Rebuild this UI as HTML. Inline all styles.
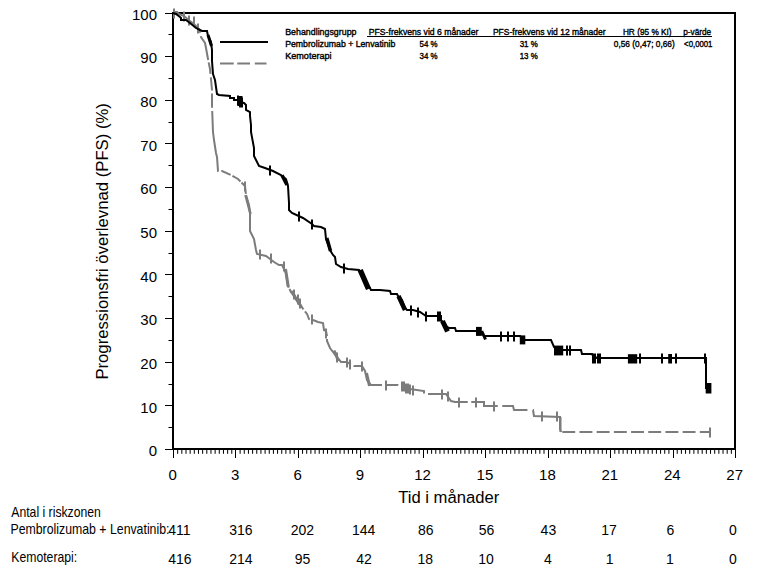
<!DOCTYPE html>
<html><head><meta charset="utf-8"><style>
html,body{margin:0;padding:0;background:#fff;}
body{width:766px;height:579px;overflow:hidden;position:relative;}
svg{position:absolute;left:0;top:0;}
text{font-family:"Liberation Sans",Arial,sans-serif;fill:#000;}
.tl{font-size:15px;}
.ti{font-size:16.67px;}
.lg{font-size:9.8px;stroke:#000;stroke-width:0.4px;}
.rl{font-size:15px;}
.rn{font-size:14px;}
</style></head><body>
<svg width="766" height="579" viewBox="0 0 766 579">
<rect x="172" y="12" width="564" height="2" fill="#000"/>
<rect x="734" y="12" width="2" height="438" fill="#000"/>
<rect x="172" y="12" width="2" height="438" fill="#000"/>
<rect x="172" y="448" width="564" height="2" fill="#000"/>
<rect x="165" y="449" width="7" height="1" fill="#000"/>
<rect x="168.5" y="427" width="3.5" height="1" fill="#000"/>
<rect x="165" y="405" width="7" height="1" fill="#000"/>
<rect x="168.5" y="384" width="3.5" height="1" fill="#000"/>
<rect x="165" y="362" width="7" height="1" fill="#000"/>
<rect x="168.5" y="340" width="3.5" height="1" fill="#000"/>
<rect x="165" y="318" width="7" height="1" fill="#000"/>
<rect x="168.5" y="296" width="3.5" height="1" fill="#000"/>
<rect x="165" y="274" width="7" height="1" fill="#000"/>
<rect x="168.5" y="253" width="3.5" height="1" fill="#000"/>
<rect x="165" y="231" width="7" height="1" fill="#000"/>
<rect x="168.5" y="209" width="3.5" height="1" fill="#000"/>
<rect x="165" y="187" width="7" height="1" fill="#000"/>
<rect x="168.5" y="165" width="3.5" height="1" fill="#000"/>
<rect x="165" y="143" width="7" height="1" fill="#000"/>
<rect x="168.5" y="122" width="3.5" height="1" fill="#000"/>
<rect x="165" y="100" width="7" height="1" fill="#000"/>
<rect x="168.5" y="78" width="3.5" height="1" fill="#000"/>
<rect x="165" y="56" width="7" height="1" fill="#000"/>
<rect x="168.5" y="34" width="3.5" height="1" fill="#000"/>
<rect x="165" y="13" width="7" height="1" fill="#000"/>
<rect x="173" y="450" width="1" height="8" fill="#000"/>
<rect x="177.16" y="450" width="1" height="3.8" fill="#000"/>
<rect x="181.33" y="450" width="1" height="3.8" fill="#000"/>
<rect x="185.49" y="450" width="1" height="3.8" fill="#000"/>
<rect x="189.65" y="450" width="1" height="3.8" fill="#000"/>
<rect x="193.81" y="450" width="1" height="3.8" fill="#000"/>
<rect x="197.98" y="450" width="1" height="3.8" fill="#000"/>
<rect x="202.14" y="450" width="1" height="3.8" fill="#000"/>
<rect x="206.30" y="450" width="1" height="3.8" fill="#000"/>
<rect x="210.47" y="450" width="1" height="3.8" fill="#000"/>
<rect x="214.63" y="450" width="1" height="3.8" fill="#000"/>
<rect x="218.79" y="450" width="1" height="3.8" fill="#000"/>
<rect x="222.96" y="450" width="1" height="3.8" fill="#000"/>
<rect x="227.12" y="450" width="1" height="3.8" fill="#000"/>
<rect x="231.28" y="450" width="1" height="3.8" fill="#000"/>
<rect x="235" y="450" width="1" height="8" fill="#000"/>
<rect x="239.61" y="450" width="1" height="3.8" fill="#000"/>
<rect x="243.77" y="450" width="1" height="3.8" fill="#000"/>
<rect x="247.93" y="450" width="1" height="3.8" fill="#000"/>
<rect x="252.10" y="450" width="1" height="3.8" fill="#000"/>
<rect x="256.26" y="450" width="1" height="3.8" fill="#000"/>
<rect x="260.42" y="450" width="1" height="3.8" fill="#000"/>
<rect x="264.59" y="450" width="1" height="3.8" fill="#000"/>
<rect x="268.75" y="450" width="1" height="3.8" fill="#000"/>
<rect x="272.91" y="450" width="1" height="3.8" fill="#000"/>
<rect x="277.07" y="450" width="1" height="3.8" fill="#000"/>
<rect x="281.24" y="450" width="1" height="3.8" fill="#000"/>
<rect x="285.40" y="450" width="1" height="3.8" fill="#000"/>
<rect x="289.56" y="450" width="1" height="3.8" fill="#000"/>
<rect x="293.73" y="450" width="1" height="3.8" fill="#000"/>
<rect x="298" y="450" width="1" height="8" fill="#000"/>
<rect x="302.05" y="450" width="1" height="3.8" fill="#000"/>
<rect x="306.22" y="450" width="1" height="3.8" fill="#000"/>
<rect x="310.38" y="450" width="1" height="3.8" fill="#000"/>
<rect x="314.54" y="450" width="1" height="3.8" fill="#000"/>
<rect x="318.71" y="450" width="1" height="3.8" fill="#000"/>
<rect x="322.87" y="450" width="1" height="3.8" fill="#000"/>
<rect x="327.03" y="450" width="1" height="3.8" fill="#000"/>
<rect x="331.19" y="450" width="1" height="3.8" fill="#000"/>
<rect x="335.36" y="450" width="1" height="3.8" fill="#000"/>
<rect x="339.52" y="450" width="1" height="3.8" fill="#000"/>
<rect x="343.68" y="450" width="1" height="3.8" fill="#000"/>
<rect x="347.85" y="450" width="1" height="3.8" fill="#000"/>
<rect x="352.01" y="450" width="1" height="3.8" fill="#000"/>
<rect x="356.17" y="450" width="1" height="3.8" fill="#000"/>
<rect x="360" y="450" width="1" height="8" fill="#000"/>
<rect x="364.50" y="450" width="1" height="3.8" fill="#000"/>
<rect x="368.66" y="450" width="1" height="3.8" fill="#000"/>
<rect x="372.82" y="450" width="1" height="3.8" fill="#000"/>
<rect x="376.99" y="450" width="1" height="3.8" fill="#000"/>
<rect x="381.15" y="450" width="1" height="3.8" fill="#000"/>
<rect x="385.31" y="450" width="1" height="3.8" fill="#000"/>
<rect x="389.48" y="450" width="1" height="3.8" fill="#000"/>
<rect x="393.64" y="450" width="1" height="3.8" fill="#000"/>
<rect x="397.80" y="450" width="1" height="3.8" fill="#000"/>
<rect x="401.97" y="450" width="1" height="3.8" fill="#000"/>
<rect x="406.13" y="450" width="1" height="3.8" fill="#000"/>
<rect x="410.29" y="450" width="1" height="3.8" fill="#000"/>
<rect x="414.45" y="450" width="1" height="3.8" fill="#000"/>
<rect x="418.62" y="450" width="1" height="3.8" fill="#000"/>
<rect x="423" y="450" width="1" height="8" fill="#000"/>
<rect x="426.94" y="450" width="1" height="3.8" fill="#000"/>
<rect x="431.11" y="450" width="1" height="3.8" fill="#000"/>
<rect x="435.27" y="450" width="1" height="3.8" fill="#000"/>
<rect x="439.43" y="450" width="1" height="3.8" fill="#000"/>
<rect x="443.60" y="450" width="1" height="3.8" fill="#000"/>
<rect x="447.76" y="450" width="1" height="3.8" fill="#000"/>
<rect x="451.92" y="450" width="1" height="3.8" fill="#000"/>
<rect x="456.08" y="450" width="1" height="3.8" fill="#000"/>
<rect x="460.25" y="450" width="1" height="3.8" fill="#000"/>
<rect x="464.41" y="450" width="1" height="3.8" fill="#000"/>
<rect x="468.57" y="450" width="1" height="3.8" fill="#000"/>
<rect x="472.74" y="450" width="1" height="3.8" fill="#000"/>
<rect x="476.90" y="450" width="1" height="3.8" fill="#000"/>
<rect x="481.06" y="450" width="1" height="3.8" fill="#000"/>
<rect x="485" y="450" width="1" height="8" fill="#000"/>
<rect x="489.39" y="450" width="1" height="3.8" fill="#000"/>
<rect x="493.55" y="450" width="1" height="3.8" fill="#000"/>
<rect x="497.71" y="450" width="1" height="3.8" fill="#000"/>
<rect x="501.88" y="450" width="1" height="3.8" fill="#000"/>
<rect x="506.04" y="450" width="1" height="3.8" fill="#000"/>
<rect x="510.20" y="450" width="1" height="3.8" fill="#000"/>
<rect x="514.37" y="450" width="1" height="3.8" fill="#000"/>
<rect x="518.53" y="450" width="1" height="3.8" fill="#000"/>
<rect x="522.69" y="450" width="1" height="3.8" fill="#000"/>
<rect x="526.86" y="450" width="1" height="3.8" fill="#000"/>
<rect x="531.02" y="450" width="1" height="3.8" fill="#000"/>
<rect x="535.18" y="450" width="1" height="3.8" fill="#000"/>
<rect x="539.34" y="450" width="1" height="3.8" fill="#000"/>
<rect x="543.51" y="450" width="1" height="3.8" fill="#000"/>
<rect x="548" y="450" width="1" height="8" fill="#000"/>
<rect x="551.83" y="450" width="1" height="3.8" fill="#000"/>
<rect x="556.00" y="450" width="1" height="3.8" fill="#000"/>
<rect x="560.16" y="450" width="1" height="3.8" fill="#000"/>
<rect x="564.32" y="450" width="1" height="3.8" fill="#000"/>
<rect x="568.49" y="450" width="1" height="3.8" fill="#000"/>
<rect x="572.65" y="450" width="1" height="3.8" fill="#000"/>
<rect x="576.81" y="450" width="1" height="3.8" fill="#000"/>
<rect x="580.97" y="450" width="1" height="3.8" fill="#000"/>
<rect x="585.14" y="450" width="1" height="3.8" fill="#000"/>
<rect x="589.30" y="450" width="1" height="3.8" fill="#000"/>
<rect x="593.46" y="450" width="1" height="3.8" fill="#000"/>
<rect x="597.63" y="450" width="1" height="3.8" fill="#000"/>
<rect x="601.79" y="450" width="1" height="3.8" fill="#000"/>
<rect x="605.95" y="450" width="1" height="3.8" fill="#000"/>
<rect x="610" y="450" width="1" height="8" fill="#000"/>
<rect x="614.28" y="450" width="1" height="3.8" fill="#000"/>
<rect x="618.44" y="450" width="1" height="3.8" fill="#000"/>
<rect x="622.60" y="450" width="1" height="3.8" fill="#000"/>
<rect x="626.77" y="450" width="1" height="3.8" fill="#000"/>
<rect x="630.93" y="450" width="1" height="3.8" fill="#000"/>
<rect x="635.09" y="450" width="1" height="3.8" fill="#000"/>
<rect x="639.26" y="450" width="1" height="3.8" fill="#000"/>
<rect x="643.42" y="450" width="1" height="3.8" fill="#000"/>
<rect x="647.58" y="450" width="1" height="3.8" fill="#000"/>
<rect x="651.75" y="450" width="1" height="3.8" fill="#000"/>
<rect x="655.91" y="450" width="1" height="3.8" fill="#000"/>
<rect x="660.07" y="450" width="1" height="3.8" fill="#000"/>
<rect x="664.23" y="450" width="1" height="3.8" fill="#000"/>
<rect x="668.40" y="450" width="1" height="3.8" fill="#000"/>
<rect x="673" y="450" width="1" height="8" fill="#000"/>
<rect x="676.72" y="450" width="1" height="3.8" fill="#000"/>
<rect x="680.89" y="450" width="1" height="3.8" fill="#000"/>
<rect x="685.05" y="450" width="1" height="3.8" fill="#000"/>
<rect x="689.21" y="450" width="1" height="3.8" fill="#000"/>
<rect x="693.38" y="450" width="1" height="3.8" fill="#000"/>
<rect x="697.54" y="450" width="1" height="3.8" fill="#000"/>
<rect x="701.70" y="450" width="1" height="3.8" fill="#000"/>
<rect x="705.86" y="450" width="1" height="3.8" fill="#000"/>
<rect x="710.03" y="450" width="1" height="3.8" fill="#000"/>
<rect x="714.19" y="450" width="1" height="3.8" fill="#000"/>
<rect x="718.35" y="450" width="1" height="3.8" fill="#000"/>
<rect x="722.52" y="450" width="1" height="3.8" fill="#000"/>
<rect x="726.68" y="450" width="1" height="3.8" fill="#000"/>
<rect x="730.84" y="450" width="1" height="3.8" fill="#000"/>
<rect x="735" y="450" width="1" height="8" fill="#000"/>
<text x="157" y="456.3" class="tl" text-anchor="end">0</text>
<text x="157" y="412.7" class="tl" text-anchor="end">10</text>
<text x="157" y="369.0" class="tl" text-anchor="end">20</text>
<text x="157" y="325.3" class="tl" text-anchor="end">30</text>
<text x="157" y="281.7" class="tl" text-anchor="end">40</text>
<text x="157" y="238.1" class="tl" text-anchor="end">50</text>
<text x="157" y="194.4" class="tl" text-anchor="end">60</text>
<text x="157" y="150.8" class="tl" text-anchor="end">70</text>
<text x="157" y="107.1" class="tl" text-anchor="end">80</text>
<text x="157" y="63.4" class="tl" text-anchor="end">90</text>
<text x="157" y="19.8" class="tl" text-anchor="end">100</text>
<text x="172.7" y="480.2" class="tl" text-anchor="middle">0</text>
<text x="235.1" y="480.2" class="tl" text-anchor="middle">3</text>
<text x="297.6" y="480.2" class="tl" text-anchor="middle">6</text>
<text x="360.0" y="480.2" class="tl" text-anchor="middle">9</text>
<text x="422.5" y="480.2" class="tl" text-anchor="middle">12</text>
<text x="484.9" y="480.2" class="tl" text-anchor="middle">15</text>
<text x="547.4" y="480.2" class="tl" text-anchor="middle">18</text>
<text x="609.8" y="480.2" class="tl" text-anchor="middle">21</text>
<text x="672.3" y="480.2" class="tl" text-anchor="middle">24</text>
<text x="734.7" y="480.2" class="tl" text-anchor="middle">27</text>
<text x="108.2" y="379.6" class="ti" transform="rotate(-90 108.2 379.6)" textLength="276.5" lengthAdjust="spacingAndGlyphs">Progressionsfri överlevnad (PFS) (%)</text>
<polyline points="173,12 177,12 179,14 184,16 190,21 194,24 199,29 200,32 201,37 203,40 205,43 206,48 208,59 210,69 211,79 212,90 212,106 213,132 214,140 216,153 217,157 218,171 222,171 231,175 238,179 242,183 245,186 246,195 249,205 250,213 250,231 254,239 256,250 257,254 266,256 274,262 279,265 282,265 286,273 288,286 291,292 294,294 297,301 301,306 307,314 309,319 313,320 318,322 323,323 324,330 326,331 327,336 327,341 330,348 333,352 336,356 341,362 347,362 350,364 354,366 362,366 365,371 367,380 371,385 398,385 402,386 410,389 424,391 424,394 440,394 446,394 451,401 455,402 484,402 484,406 513,406 514,410 533,410 534,416 560,417 560,429 561,432" fill="none" stroke="#7c7c7c" stroke-width="2" stroke-dasharray="36.00 3.50 25.30 2.50 11.63 3.50 13.12 3.20 14.21 3.20 60.88 2.80 10.16 2.00 9.95 1.50 12.75 1.50 112.41 1.50 25.14 2.50 9.65 1.50 26.64 3.00 37.99 3.00 40.97 3.00 13.31 3.50 25.55 4.50 43.43 3.50 30.50 4.50 28.27 5.40 52.46 0.01"/>
<path d="M562.3 432H710.4" fill="none" stroke="#7c7c7c" stroke-width="2" stroke-dasharray="12.9 4.29"/>
<rect x="559.5" y="417" width="2" height="15" fill="#7c7c7c"/>
<path d="M174 8.5v10M184 11.5v10M189 15.5v10M194 16.5v10M198 23.5v10M245 181.5v10M260 249.5v10M271 253.5v10M284 261.5v10M312 314.5v10M337 352.5v10M347 357.5v10M350 359.5v10M362 361.5v10M386 380.5v10M402 381.5v10M404 381.5v10M406 383.5v10M408 383.5v10M410 384.5v10M413 385.5v10M442 389.5v10M459 397.5v10M476 397.5v10M494 401.5v10M542 411.5v10M557 411.5v10M710 427.5v10" stroke="#7c7c7c" stroke-width="2" fill="none"/>
<polyline points="173,13 176,14 180,17 181,18 181,20 186,20 190,23 196,28 200,30 202,31 207,31 208,36 210,40 211,42 212,50 212,61 213,74 215,80 217,94 219,95 230,96 230,98 234,98 234,100 237,100 240,102 244,103 246,105 246,110 250,112 250,116 251,125 251,132 254,148 254,156 259,166 265,168 273,171 281,175 286,179 288,186 289,203 289,210 292,213 303,218 312,224 314,226 321,227 325,229 326,239 328,244 330,250 333,255 335,257 336,264 341,267 348,269 359,270 361,275 366,283 370,288 371,290 380,290 390,291 391,294 397,294 398,296 402,300 405,308 407,310 413,310 420,312 426,316 439,316 441,316 441,320 446,326 449,328 455,328 456,331 476,331 478,332 482,334 485,336 520,336 522,338 525,340 551,340 554,347 556,349 560,350 581,350 582,354 592,354 593,356 597,358 600,358 706,358 706,388 711,388" fill="none" stroke="#000" stroke-width="2"/>
<path d="M238 95.5v10M240 97.5v10M242 97.5v10M270 165.5v10M299 211.5v10M312 219.5v10M344 263.5v10M411 305.5v10M418 307.5v10M426 311.5v10M438 311.5v10M440 311.5v10M501 331.5v10M508 331.5v10M514 331.5v10M567 345.5v10M570 345.5v10M593 353.5v10M595 353.5v10M598 353.5v10M600 353.5v10M640 353.5v10M662 353.5v10M676 353.5v10M705 353.5v10" stroke="#000" stroke-width="2" fill="none"/>
<polyline points="285.5,269 288.3,287" fill="none" stroke="#7c7c7c" stroke-width="3"/>
<polyline points="291,291 301.5,307" fill="none" stroke="#7c7c7c" stroke-width="3"/>
<polyline points="334,350.5 338.5,361" fill="none" stroke="#7c7c7c" stroke-width="3"/>
<polyline points="366.5,373 369.5,386" fill="none" stroke="#7c7c7c" stroke-width="3"/>
<polyline points="245.5,195 250.5,214" fill="none" stroke="#7c7c7c" stroke-width="2.6"/>
<path d="M294 289.5v10M298 294.5v10M300 298.5v10M448 391.5v10M326 328.5v10" stroke="#7c7c7c" stroke-width="2" fill="none"/>
<rect x="476" y="326.9" width="5.8" height="9" fill="#000"/>
<rect x="519.8" y="335.4" width="5.5" height="9" fill="#000"/>
<rect x="554" y="345.6" width="9.2" height="9.8" fill="#000"/>
<rect x="627.9" y="354.2" width="9.3" height="9.3" fill="#000"/>
<rect x="668.2" y="354" width="3.8" height="9.5" fill="#000"/>
<rect x="705.7" y="383" width="5.7" height="10.5" fill="#000"/>
<rect x="237.5" y="96" width="5" height="10" fill="#000"/>
<polyline points="238.5,97 240.5,106" fill="none" stroke="#000" stroke-width="3"/>
<polyline points="282,175.3 287,185" fill="none" stroke="#000" stroke-width="3.5"/>
<polyline points="326.8,238 330.5,251" fill="none" stroke="#000" stroke-width="3.5"/>
<polyline points="360.2,270 368.5,289" fill="none" stroke="#000" stroke-width="5.5"/>
<polyline points="398.5,296 405,310" fill="none" stroke="#000" stroke-width="4.5"/>
<polyline points="442.5,321 447.5,331.5" fill="none" stroke="#000" stroke-width="5"/>
<polyline points="481.7,331 485.5,339.5" fill="none" stroke="#000" stroke-width="3"/>
<polyline points="208,35 211.5,46" fill="none" stroke="#000" stroke-width="3"/>
<rect x="220" y="41" width="48" height="2" fill="#000"/>
<path d="M220 63.5h13.7M237.3 63.5h12.7M254.8 63.5h11.7" stroke="#7c7c7c" stroke-width="2"/>
<rect x="367" y="36" width="345" height="1" fill="#000"/>
<text x="285.20" y="35" class="lg" textLength="71.30" lengthAdjust="spacingAndGlyphs">Behandlingsgrupp</text>
<text x="368.80" y="35" class="lg" textLength="109.55" lengthAdjust="spacingAndGlyphs">PFS-frekvens vid 6 månader</text>
<text x="492.90" y="35" class="lg" textLength="112.76" lengthAdjust="spacingAndGlyphs">PFS-frekvens vid 12 månader</text>
<text x="622.90" y="35" class="lg" textLength="48.72" lengthAdjust="spacingAndGlyphs">HR (95 % KI)</text>
<text x="683.20" y="35" class="lg" textLength="27.94" lengthAdjust="spacingAndGlyphs">p-värde</text>
<text x="285.20" y="47" class="lg" textLength="110.21" lengthAdjust="spacingAndGlyphs">Pembrolizumab + Lenvatinib</text>
<text x="419.50" y="47" class="lg" textLength="17.97" lengthAdjust="spacingAndGlyphs">54 %</text>
<text x="519.70" y="47" class="lg" textLength="18.07" lengthAdjust="spacingAndGlyphs">31 %</text>
<text x="613.80" y="47" class="lg" textLength="60.92" lengthAdjust="spacingAndGlyphs">0,56 (0,47; 0,66)</text>
<text x="684.10" y="47" class="lg" textLength="28.36" lengthAdjust="spacingAndGlyphs">&lt;0,0001</text>
<text x="285.20" y="59" class="lg" textLength="46.46" lengthAdjust="spacingAndGlyphs">Kemoterapi</text>
<text x="419.50" y="59" class="lg" textLength="17.97" lengthAdjust="spacingAndGlyphs">34 %</text>
<text x="519.70" y="59" class="lg" textLength="18.07" lengthAdjust="spacingAndGlyphs">13 %</text>
<text x="11.30" y="516.9" class="rl" textLength="89.58" lengthAdjust="spacingAndGlyphs">Antal i riskzonen</text>
<text x="10.48" y="533.5" class="rl" textLength="158.98" lengthAdjust="spacingAndGlyphs">Pembrolizumab + Lenvatinib:</text>
<text x="11.29" y="561.7" class="rl" textLength="65.87" lengthAdjust="spacingAndGlyphs">Kemoterapi:</text>
<text x="398.20" y="502.9" class="ti" textLength="101.05" lengthAdjust="spacingAndGlyphs">Tid i månader</text>
<text x="168.33" y="535.3" class="rn">411</text>
<text x="229.21" y="535.3" class="rn">316</text>
<text x="290.81" y="535.3" class="rn">202</text>
<text x="351.91" y="535.3" class="rn">144</text>
<text x="417.91" y="535.3" class="rn">86</text>
<text x="478.71" y="535.3" class="rn">56</text>
<text x="540.61" y="535.3" class="rn">43</text>
<text x="601.21" y="535.3" class="rn">17</text>
<text x="666.60" y="535.3" class="rn">6</text>
<text x="728.90" y="535.3" class="rn">0</text>
<text x="168.21" y="563.5" class="rn">416</text>
<text x="229.21" y="563.5" class="rn">214</text>
<text x="294.71" y="563.5" class="rn">95</text>
<text x="356.31" y="563.5" class="rn">42</text>
<text x="417.41" y="563.5" class="rn">18</text>
<text x="478.21" y="563.5" class="rn">10</text>
<text x="543.90" y="563.5" class="rn">4</text>
<text x="605.70" y="563.5" class="rn">1</text>
<text x="666.10" y="563.5" class="rn">1</text>
<text x="728.90" y="563.5" class="rn">0</text>
</svg>
</body></html>
